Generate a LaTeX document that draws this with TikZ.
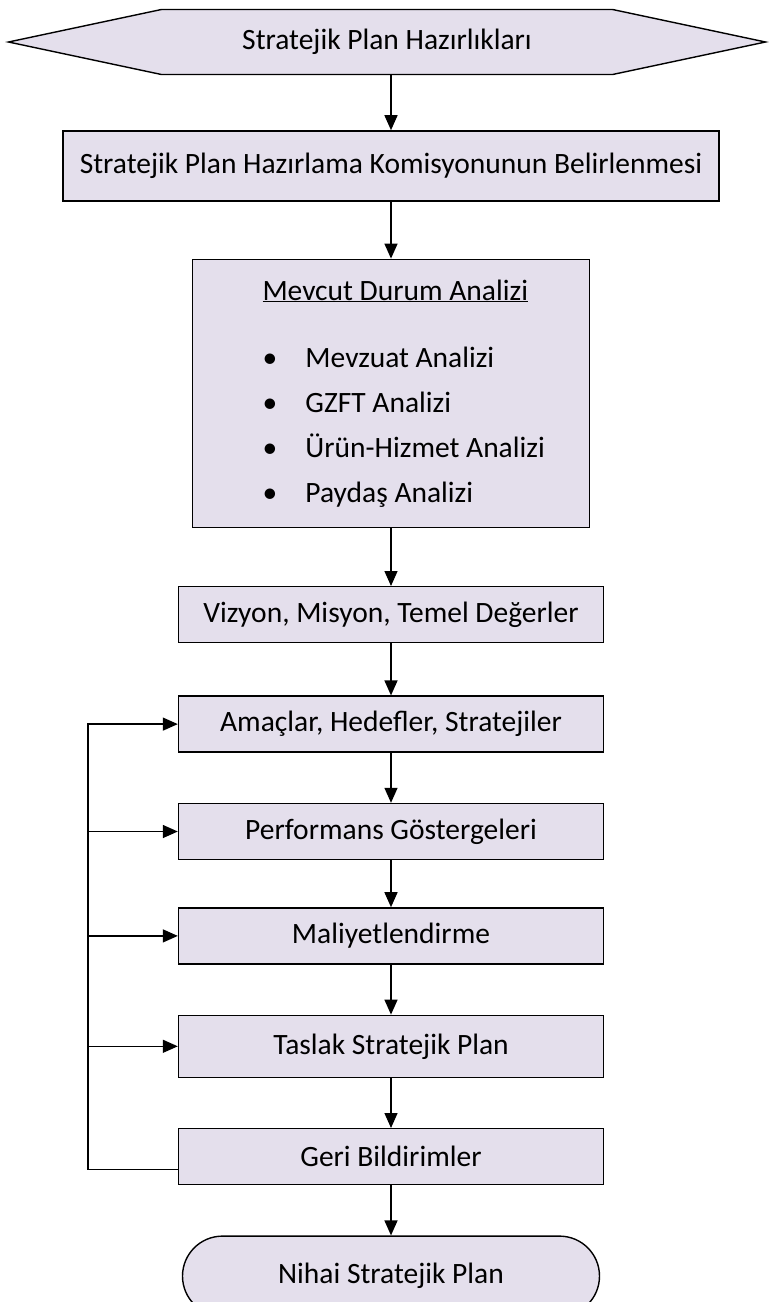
\documentclass[tikz,border=0pt]{standalone}
\usepackage{fontspec}
\setmainfont{Carlito}
\usetikzlibrary{arrows.meta,positioning,shapes.symbols,shapes.misc}
\definecolor{boxfill}{HTML}{E4DFEC}

\begin{document}
\begin{tikzpicture}[
  x=1pt, y=-1pt,
  node distance=50pt,
  every node/.style={font=\fontsize{29.5}{45}\selectfont},
  stagebox/.style={draw, fill=boxfill, line width=1.4pt, minimum width=425pt, minimum height=56pt, inner sep=4pt},
  arrow/.style={-{Triangle[length=15pt, width=13pt]}, line width=1.4pt}
]
\useasboundingbox (0,0) rectangle (769,1302);
\node[signal, signal to=west and east, signal pointer angle=24, draw, fill=boxfill, line width=1.4pt, minimum width=757pt, minimum height=65pt] (prep) at (387,42) {Stratejik Plan Hazırlıkları};
\node[stagebox, minimum width=656pt, minimum height=70pt, below=55pt of prep, xshift=4pt] (commission) {Stratejik Plan Hazırlama Komisyonunun Belirlenmesi};
\node[stagebox, minimum width=397pt, minimum height=268pt, below=57pt of commission, align=left, inner xsep=0pt] (current) {\makebox[257pt][l]{\underline{Mevcut Durum Analizi}}\\[22pt]
  \makebox[257pt][l]{\makebox[43pt][l]{\textbullet}Mevzuat Analizi}\\
  \makebox[257pt][l]{\makebox[43pt][l]{\textbullet}GZFT Analizi}\\
  \makebox[257pt][l]{\makebox[43pt][l]{\textbullet}Ürün-Hizmet Analizi}\\
  \makebox[257pt][l]{\makebox[43pt][l]{\textbullet}Paydaş Analizi}};
\node[stagebox, below=58pt of current] (vision) {Vizyon, Misyon, Temel Değerler};
\node[stagebox, below=52pt of vision] (goals) {Amaçlar, Hedefler, Stratejiler};
\node[stagebox, below=of goals] (indicators) {Performans Göstergeleri};
\node[stagebox, below=47pt of indicators] (costing) {Maliyetlendirme};
\node[stagebox, minimum height=62pt, below=of costing] (draft) {Taslak Stratejik Plan};
\node[stagebox, below=of draft] (feedback) {Geri Bildirimler};
\node[stagebox, rounded rectangle, minimum height=80pt, below=of feedback] (final) {Nihai Stratejik Plan};
\coordinate[left=90pt of feedback.west, yshift=-13pt] (loop);

\draw[arrow] (prep.south -| commission.north) -- (commission.north);
\draw[arrow] (commission) -- (current);
\draw[arrow] (current) -- (vision);
\draw[arrow] (vision) -- (goals);
\draw[arrow] (goals) -- (indicators);
\draw[arrow] (indicators) -- (costing);
\draw[arrow] (costing) -- (draft);
\draw[arrow] (draft) -- (feedback);
\draw[arrow] (feedback.south) -- (final.north);
% feedback loop
\draw[arrow] ([yshift=-13pt]feedback.west) -- (loop) |- (goals.west);
\draw[arrow] (loop |- indicators.west) -- (indicators.west);
\draw[arrow] (loop |- costing.west) -- (costing.west);
\draw[arrow] (loop |- draft.west) -- (draft.west);
\end{tikzpicture}
\end{document}
